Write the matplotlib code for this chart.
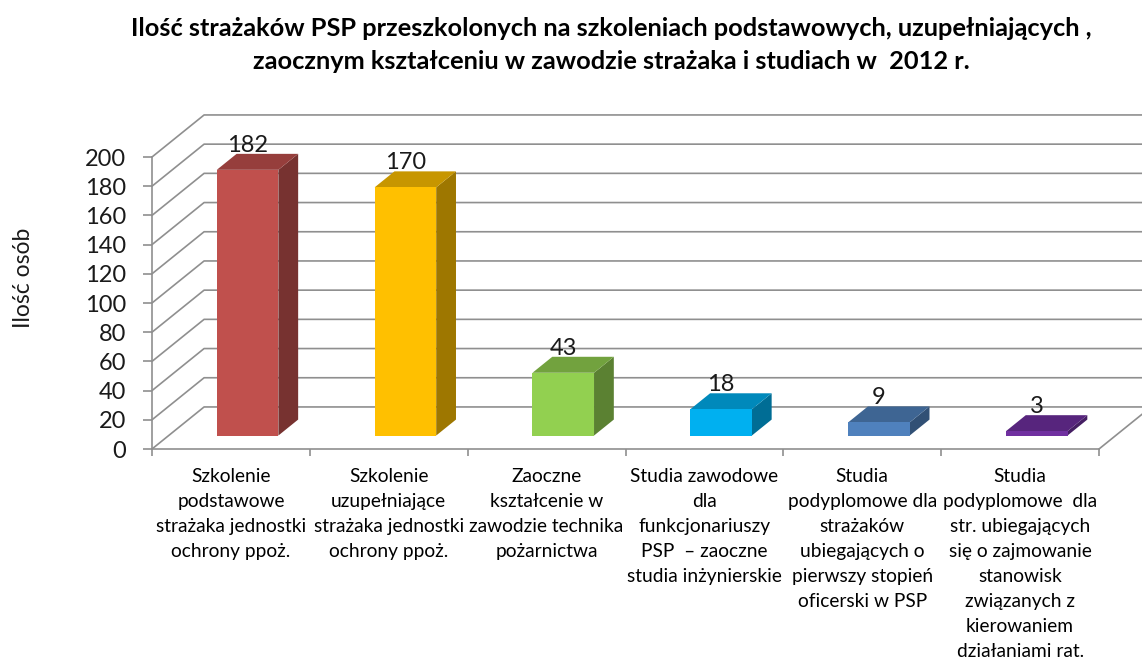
import numpy as np
import matplotlib
matplotlib.use("Agg")
import matplotlib.pyplot as plt
from matplotlib.patches import Polygon
from matplotlib.colors import to_rgb

plt.rcParams['font.family'] = ['Lato', 'DejaVu Sans']

# dane
categories = [
    "Szkolenie\npodstawowe\nstrażaka jednostki\nochrony ppoż.",
    "Szkolenie\nuzupełniające\nstrażaka jednostki\nochrony ppoż.",
    "Zaoczne\nkształcenie w\nzawodzie technika\npożarnictwa",
    "Studia zawodowe\ndla\nfunkcjonariuszy\nPSP  – zaoczne\nstudia inżynierskie",
    "Studia\npodyplomowe dla\nstrażaków\nubiegających o\npierwszy stopień\noficerski w PSP",
    "Studia\npodyplomowe  dla\nstr. ubiegających\nsię o zajmowanie\nstanowisk\nzwiązanych z\nkierowaniem\ndziałaniami rat.",
]
values = [182, 170, 43, 18, 9, 3]
colors = ["#C0504D", "#FFC000", "#92D050", "#00B0F0", "#4F81BD", "#7030A0"]
yticks = list(range(0, 201, 20))

title = ("Ilość strażaków PSP przeszkolonych na szkoleniach podstawowych, uzupełniających ,\n"
         "zaocznym kształceniu w zawodzie strażaka i studiach w  2012 r.")

# geometria "3D" (przesunięcie głębokości w jednostkach danych)
DX = 0.33      # kategorie
DY = 28.8      # jednostki osi Y
D0, D1 = 0.32, 0.70
W = 0.39
grid_color = "#8F8F8F"


def proj(x, v, d):
    return (x + d * DX, v + d * DY)


def shade(c, f):
    r, g, b = to_rgb(c)
    return (r * f, g * f, b * f)


W_PX, H_PX = 1142, 661
fig = plt.figure(figsize=(W_PX / 100, H_PX / 100), dpi=100)
ax = fig.add_axes([152 / W_PX, (H_PX - 449) / H_PX, (1099 - 152) / W_PX, 292 / H_PX])
n = len(values)
ax.set_xlim(0, n)
ax.set_ylim(0, 200)

# siatka na tylnej i lewej ścianie
for v in yticks:
    pts = [proj(0, v, 0), proj(0, v, 1), proj(n + 1, v, 1)]
    ax.plot([p[0] for p in pts], [p[1] for p in pts], color=grid_color,
            lw=1.2, clip_on=False, zorder=1)
# prawa krawędź podłogi
pts = [proj(n, 0, 0), proj(n, 0, 1)]
ax.plot([p[0] for p in pts], [p[1] for p in pts], color=grid_color,
        lw=1.2, clip_on=False, zorder=1)

# słupki
for i, (val, col) in enumerate(zip(values, colors)):
    l = i + 0.5 - W / 2
    r = i + 0.5 + W / 2
    front = [proj(l, 0, D0), proj(r, 0, D0), proj(r, val, D0), proj(l, val, D0)]
    side = [proj(r, 0, D0), proj(r, 0, D1), proj(r, val, D1), proj(r, val, D0)]
    top = [proj(l, val, D0), proj(r, val, D0), proj(r, val, D1), proj(l, val, D1)]
    ax.add_patch(Polygon(side, closed=True, fc=shade(col, 0.62), ec='none',
                         clip_on=False, zorder=3))
    ax.add_patch(Polygon(top, closed=True, fc=shade(col, 0.78), ec='none',
                         clip_on=False, zorder=3))
    ax.add_patch(Polygon(front, closed=True, fc=col, ec='none',
                         clip_on=False, zorder=4))
    lx, ly = proj(i + 0.5, val, D0)
    _, ty = proj(i + 0.5, val, D1)
    ax.text(lx, ty + 1.5, str(val), ha='center', va='baseline', fontsize=17,
            color='#1a1a1a', clip_on=False, zorder=5)

# osie
for s in ['top', 'right']:
    ax.spines[s].set_visible(False)
for s in ['left', 'bottom']:
    ax.spines[s].set_color(grid_color)
    ax.spines[s].set_linewidth(1.2)
ax.set_facecolor('none')

ax.set_yticks(yticks)
ax.tick_params(axis='y', length=6.5, width=1.2, color=grid_color, pad=12,
               labelsize=17, labelcolor='#1a1a1a')
ax.set_xticks(np.arange(n + 1))
ax.set_xticklabels([])
ax.set_xticks(np.arange(n) + 0.5, minor=True)
ax.set_xticklabels(categories, minor=True, fontsize=13.8, linespacing=1.57)
ax.tick_params(axis='x', which='major', length=5, width=1.2, color=grid_color)
ax.tick_params(axis='x', which='minor', length=0, pad=14)

fig.text(24 / W_PX, 1 - 278 / H_PX, "Ilość osób", rotation=90, ha='center',
         va='center', fontsize=16.5, color='#1a1a1a')
fig.text(611 / W_PX, 1 - 45 / H_PX, title, ha='center', va='center',
         fontsize=18.3, fontweight='bold', linespacing=1.55)

fig.savefig("out.png", dpi=100)
